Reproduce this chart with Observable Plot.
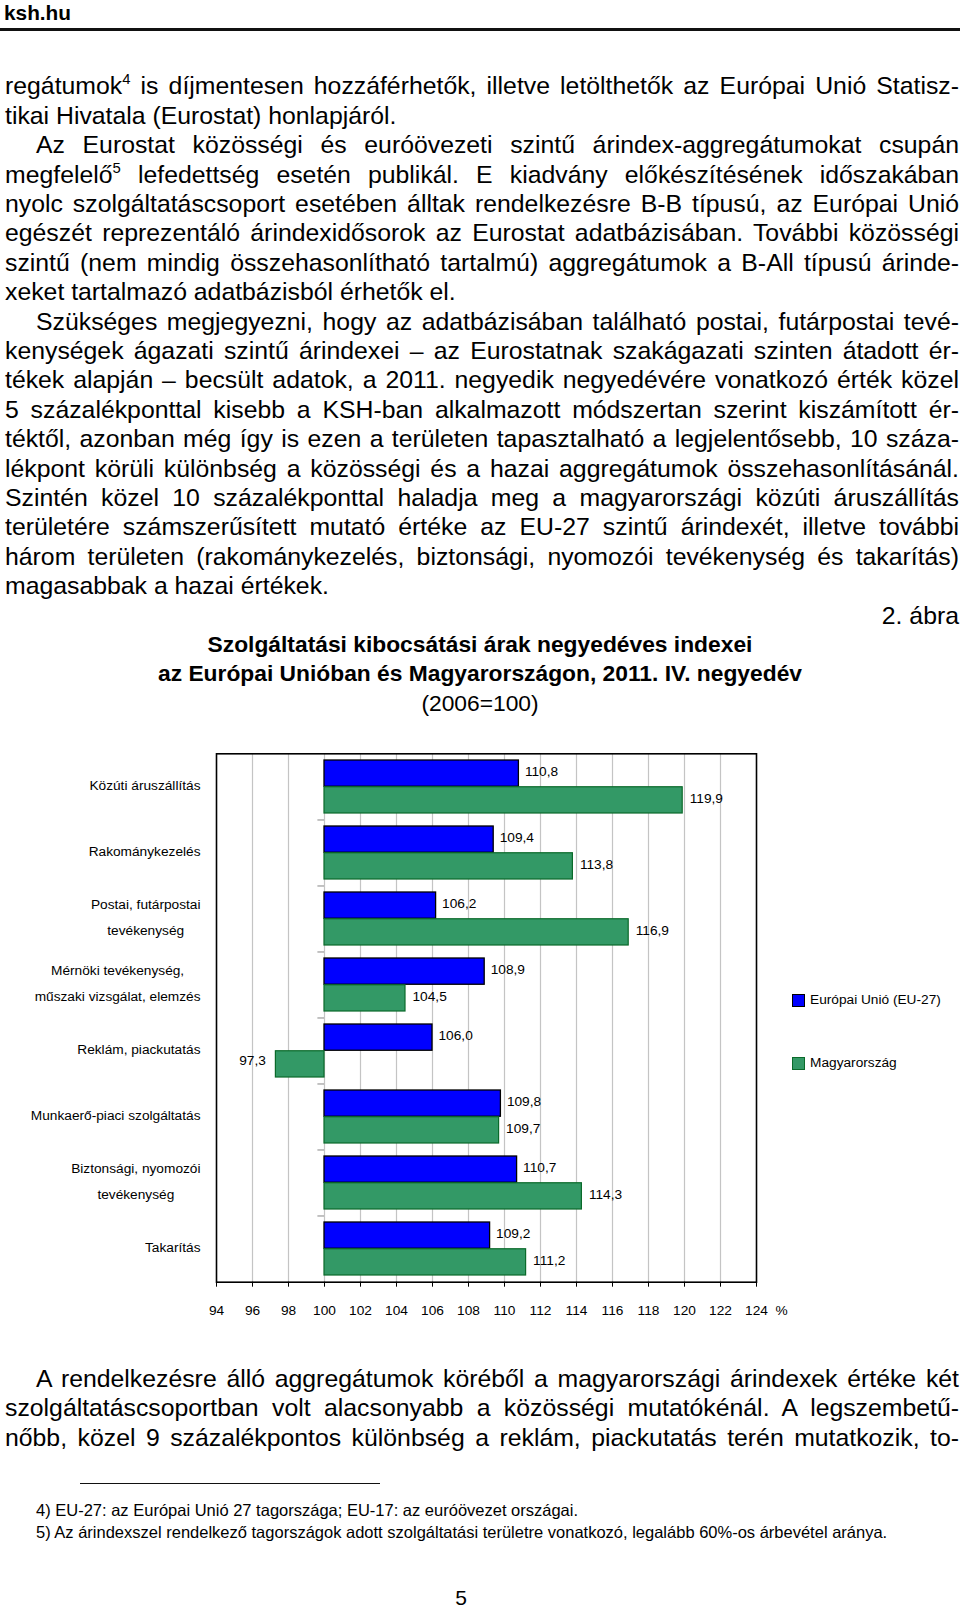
<!DOCTYPE html>
<html lang="hu">
<head>
<meta charset="utf-8">
<script src="https://cdn.jsdelivr.net/npm/d3@7"></script>
<script src="https://cdn.jsdelivr.net/npm/@observablehq/plot@0.6"></script>
<style>
  html, body { margin: 0; padding: 0; background: #fff; }
  body { width: 960px; height: 1609px; position: relative; overflow: hidden; color: #000;
         font-family: "Liberation Sans", Arial, sans-serif; }
  .hdr { position: absolute; left: 4px; top: 0; font-weight: bold; font-size: 20.8px; line-height: 26px; }
  .hdrline { position: absolute; left: 0; top: 28.3px; width: 960px; height: 2.5px; background: #111; }
  .ln { position: absolute; left: 5px; width: 954px; height: 29.4px; line-height: 29.4px; font-size: 24.8px;
        white-space: nowrap; }
  .j { text-align: justify; text-align-last: justify; }
  .ind { text-indent: 31px; }
  .c { text-align: center; left: 0; width: 960px; }
  .r { text-align: right; }
  .t { font-size: 22.8px; }
  .b { font-weight: bold; }
  sup { font-size: 0.6em; vertical-align: 0.65em; line-height: 0; }
  .fnrule { position: absolute; left: 80px; top: 1482.5px; width: 300px; height: 1.6px; background: #111; }
  .fn { position: absolute; left: 36px; font-size: 16.5px; line-height: 20px; height: 20px; white-space: nowrap; }
  .pg { position: absolute; left: 0; width: 922px; text-align: center; top: 1585px; font-size: 21px; line-height: 26px; }
  #chart { position: absolute; left: 0; top: 740px; width: 960px; }
  .leg { position: absolute; font-size: 13.7px; line-height: 16px; white-space: nowrap; }
  .sw { position: absolute; width: 11px; height: 11px; }
</style>
</head>
<body>
<div class="hdr">ksh.hu</div>
<div class="hdrline"></div>

<div id="text"></div>

<div id="chart"></div>
<div id="legend"></div>

<div class="fnrule"></div>
<div class="fn" style="top:1500px">4) EU-27: az Európai Unió 27 tagországa; EU-17: az euróövezet országai.</div>
<div class="fn" style="top:1522px">5) Az árindexszel rendelkező tagországok adott szolgáltatási területre vonatkozó, legalább 60%-os árbevétel aránya.</div>
<div class="pg">5</div>

<script>
// ---------------- chart data ----------------
const categories = [
  "Közúti áruszállítás",
  "Rakománykezelés",
  "Postai, futárpostai\ntevékenység",
  "Mérnöki tevékenység,\nműszaki vizsgálat, elemzés",
  "Reklám, piackutatás",
  "Munkaerő-piaci szolgáltatás",
  "Biztonsági, nyomozói\ntevékenység",
  "Takarítás"
];
const seriesNames = ["Európai Unió (EU-27)", "Magyarország"];
const euValues = [110.8, 109.4, 106.2, 108.9, 106.0, 109.8, 110.7, 109.2];
const huValues = [119.9, 113.8, 116.9, 104.5, 97.3, 109.7, 114.3, 111.2];
const xTicks = [94, 96, 98, 100, 102, 104, 106, 108, 110, 112, 114, 116, 118, 120, 122, 124];
const baseline = 100;
const xUnit = "%";

const chartTitle = [
  "Szolgáltatási kibocsátási árak negyedéves indexei",
  "az Európai Unióban és Magyarországon, 2011. IV. negyedév"
];
const chartSubtitle = "(2006=100)";
const figureNo = "2. ábra";

// ---------------- page text ----------------
// [text, style] ; style: j = justified, l = last line of paragraph, i = indented first line
const bodyLines = [
  ["regátumok<sup>4</sup> is díjmentesen hozzáférhetők, illetve letölthetők az Európai Unió Statisz-", "j"],
  ["tikai Hivatala (Eurostat) honlapjáról.", "l"],
  ["Az Eurostat közösségi és euróövezeti szintű árindex-aggregátumokat csupán", "ji"],
  ["megfelelő<sup>5</sup> lefedettség esetén publikál. E kiadvány előkészítésének időszakában", "j"],
  ["nyolc szolgáltatáscsoport esetében álltak rendelkezésre B-B típusú, az Európai Unió", "j"],
  ["egészét reprezentáló árindexidősorok az Eurostat adatbázisában. További közösségi", "j"],
  ["szintű (nem mindig összehasonlítható tartalmú) aggregátumok a B-All típusú árinde-", "j"],
  ["xeket tartalmazó adatbázisból érhetők el.", "l"],
  ["Szükséges megjegyezni, hogy az adatbázisában található postai, futárpostai tevé-", "ji"],
  ["kenységek ágazati szintű árindexei – az Eurostatnak szakágazati szinten átadott ér-", "j"],
  ["tékek alapján – becsült adatok, a 2011. negyedik negyedévére vonatkozó érték közel", "j"],
  ["5 százalékponttal kisebb a KSH-ban alkalmazott módszertan szerint kiszámított ér-", "j"],
  ["téktől, azonban még így is ezen a területen tapasztalható a legjelentősebb, 10 száza-", "j"],
  ["lékpont körüli különbség a közösségi és a hazai aggregátumok összehasonlításánál.", "j"],
  ["Szintén közel 10 százalékponttal haladja meg a magyarországi közúti áruszállítás", "j"],
  ["területére számszerűsített mutató értéke az EU-27 szintű árindexét, illetve további", "j"],
  ["három területen (rakománykezelés, biztonsági, nyomozói tevékenység és takarítás)", "j"],
  ["magasabbak a hazai értékek.", "l"]
];
const afterLines = [
  ["A rendelkezésre álló aggregátumok köréből a magyarországi árindexek értéke két", "ji"],
  ["szolgáltatáscsoportban volt alacsonyabb a közösségi mutatókénál. A legszembetű-", "j"],
  ["nőbb, közel 9 százalékpontos különbség a reklám, piackutatás terén mutatkozik, to-", "j"]
];

const LH = 29.4;
const textBox = document.getElementById("text");
function addLine(html, cls, centerY) {
  const d = document.createElement("div");
  d.className = "ln " + cls;
  d.style.top = (centerY - LH / 2) + "px";
  d.innerHTML = html;
  textBox.appendChild(d);
}
function clsOf(s) { return (s.includes("j") ? "j " : "") + (s.includes("i") ? "ind" : ""); }
bodyLines.forEach(([t, s], i) => addLine(t, clsOf(s), 86 + i * LH));
let row = bodyLines.length;
addLine(figureNo, "r", 86 + row * LH); row++;
chartTitle.forEach(t => { addLine(t, "c t b", 86 + row * LH); row++; });
addLine(chartSubtitle, "c t", 86 + row * LH);
afterLines.forEach(([t, s], i) => addLine(t, clsOf(s), 1378.5 + i * LH));

// ---------------- chart ----------------
const FONT = '"Liberation Sans", Arial, sans-serif';
const EU_COLOR = "#0000ff";
const HU_COLOR = "#339966";
const fmt = d3.formatLocale({decimal: ",", thousands: "\u00a0", grouping: [3], currency: ["", ""]}).format(".1f");

const rows = categories.map((c, i) => ({cat: c, eu: euValues[i], hu: huValues[i]}));

const W = 960, H = 600, ML = 216, MR = 204, MT = 13.3, MB = 58.3;
const PAD = 0.19;
const innerH = H - MT - MB;
const step = innerH / categories.length;   // paddingOuter = PAD/2 -> step = innerH / n
const bw = step * (1 - PAD);
const half = bw / 2;
const xDomain = [xTicks[0], xTicks[xTicks.length - 1]];
const pxPerUnit = (W - ML - MR) / (xDomain[1] - xDomain[0]);

const plot = Plot.plot({
  width: W, height: H,
  marginLeft: ML, marginRight: MR, marginTop: MT, marginBottom: MB,
  style: {fontFamily: FONT, fontSize: "13.7px", color: "#000", background: "transparent", overflow: "visible"},
  x: {domain: xDomain, label: null},
  y: {domain: categories, paddingInner: PAD, paddingOuter: PAD / 2, label: null},
  marks: [
    Plot.ruleX(xTicks.slice(1, -1), {stroke: "#c4c4c4", strokeWidth: 1.2}),
    Plot.ruleY(categories.slice(1), {y: d => d, x1: baseline - 6.6 / pxPerUnit, x2: baseline, dy: -step / 2, stroke: "#9a9a9a", strokeWidth: 1.2}),
    Plot.barX(rows, {y: "cat", x1: baseline, x2: "eu", insetBottom: half, fill: EU_COLOR, stroke: "#000", strokeWidth: 1.3}),
    Plot.barX(rows, {y: "cat", x1: baseline, x2: "hu", insetTop: half, fill: HU_COLOR, stroke: "#0a6a2a", strokeWidth: 1.2}),
    Plot.text(rows, {y: "cat", x: "eu", text: d => fmt(d.eu), dy: -bw / 4 - 2, dx: 6, textAnchor: "start"}),
    Plot.text(rows.filter(d => d.hu >= baseline), {y: "cat", x: "hu", text: d => fmt(d.hu), dy: bw / 4 - 2, dx: 7, textAnchor: "start"}),
    Plot.text(rows.filter(d => d.hu < baseline), {y: "cat", x: "hu", text: d => fmt(d.hu), dy: bw / 4 - 4, dx: -10, textAnchor: "end"}),
    Plot.frame({stroke: "#000", strokeWidth: 1.6}),
    Plot.axisX({ticks: xTicks, tickSize: 5, tickPadding: 18, tickFormat: d => String(d), stroke: "#000"}),
    Plot.axisY({tickSize: 0, tickPadding: 16, lineHeight: 1.87, dy: -5}),
    Plot.text([xUnit], {frameAnchor: "bottom-right", dx: 25, dy: 28, textAnchor: "middle", lineAnchor: "middle"})
  ]
});
document.getElementById("chart").appendChild(plot);

// centre the lines of multi-line category labels on each other (block stays right-aligned)
plot.querySelectorAll('g[aria-label="y-axis tick label"] text').forEach(t => {
  const spans = t.querySelectorAll("tspan");
  if (spans.length < 2) return;
  const w = Math.max(...Array.from(spans, s => s.getComputedTextLength()));
  t.setAttribute("text-anchor", "middle");
  spans.forEach(s => s.setAttribute("x", -w / 2));
});

// ---------------- legend (right of the plot frame) ----------------
const legend = document.getElementById("legend");
[[EU_COLOR, "#000", 993.5], [HU_COLOR, "#0a6a2a", 1057]].forEach(([fill, stroke, top], i) => {
  const sw = document.createElement("div");
  sw.className = "sw";
  sw.style.left = "792px"; sw.style.top = top + "px";
  sw.style.background = fill; sw.style.border = "1px solid " + stroke;
  legend.appendChild(sw);
  const tx = document.createElement("div");
  tx.className = "leg";
  tx.style.left = "810px"; tx.style.top = (top - 2) + "px";
  tx.textContent = seriesNames[i];
  legend.appendChild(tx);
});
</script>
</body>
</html>
